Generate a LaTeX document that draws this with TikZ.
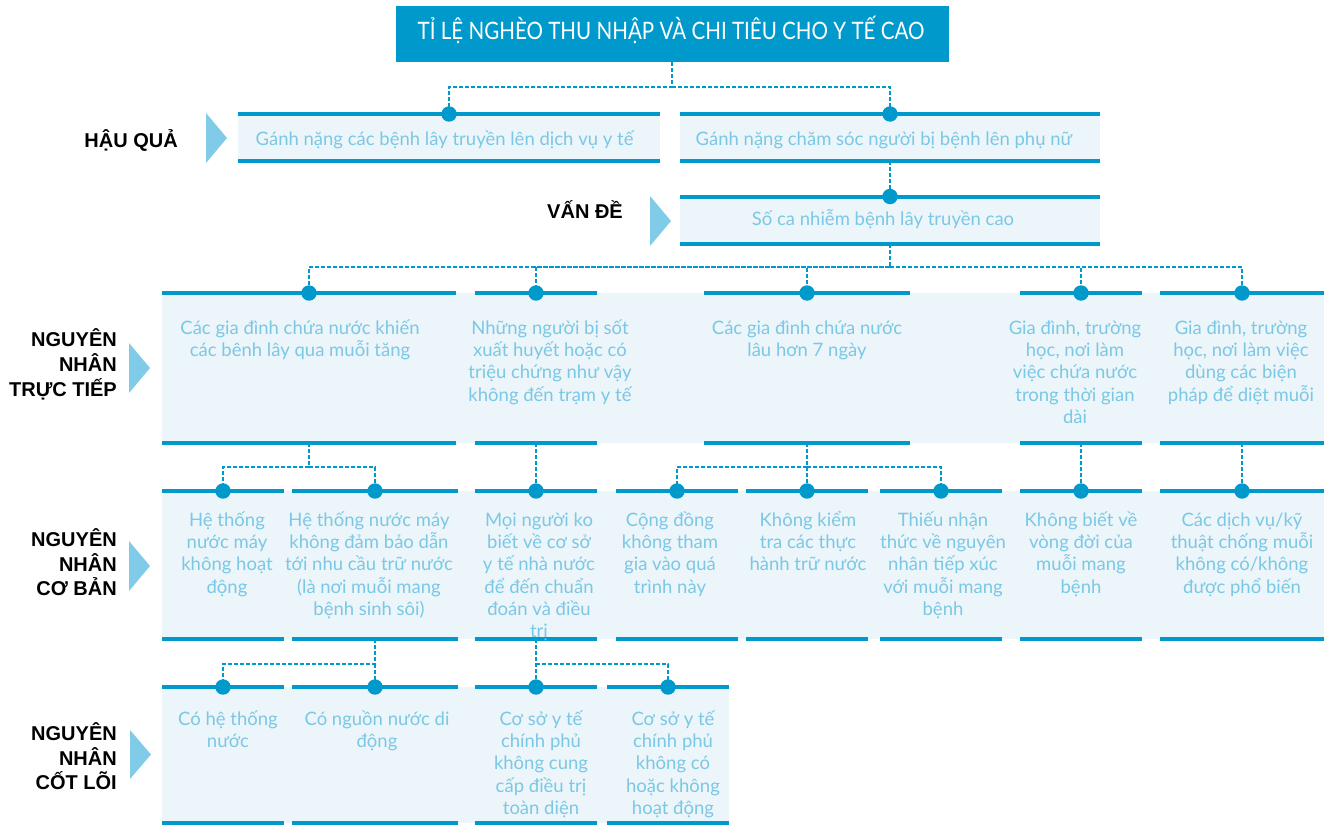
\documentclass[tikz,border=0pt]{standalone}
\usepackage{fontspec}
\setmainfont{Liberation Sans}
\newfontfamily\bodyfont{Lato}
\newfontfamily\titlefont{Lato}[FakeStretch=0.857]
\newfontfamily\labfont{Liberation Sans}
\definecolor{mainblue}{RGB}{0,153,204}
\definecolor{paleblue}{RGB}{236,245,249}
\definecolor{softblue}{RGB}{122,200,230}
\definecolor{arrowblue}{RGB}{128,204,232}
% fixed-height struts so that the first baseline of a block sits a known distance below its top
\newcommand\firstln{\rule{0pt}{19pt}}
\newcommand\labstrut{\rule{0pt}{18pt}}
\begin{document}
% keep baselines evenly spaced even where stacked accents are tall
\setlength{\lineskiplimit}{-100pt}
\begin{tikzpicture}[x=1pt,y=-1pt,
  box/.style={rectangle, inner sep=0pt, outer sep=0pt, minimum width=#1},
  barline/.style={line width=4pt, draw=mainblue},
  link/.style={draw=mainblue, line width=1.8pt, dash pattern=on 4pt off 2pt},
  body/.style={font=\bodyfont\fontsize{18.5}{22.3}\selectfont, text=softblue, align=center, inner sep=0pt},
  lab/.style={font=\labfont\bfseries\fontsize{20}{24.8}\selectfont, text=black, align=right, inner sep=0pt},
  marker/.style={fill=arrowblue},
]
\useasboundingbox (0,0) rectangle (1324,825);

% title box
\node[box=553, minimum height=56, fill=mainblue] (top) at (672,34) {};
\node[font=\titlefont\fontsize{24}{28}\selectfont, text=white, inner sep=0pt, anchor=base] (toptext) at (671,39.3) {TỈ LỆ NGHÈO THU NHẬP VÀ CHI TIÊU CHO Y TẾ CAO};

% pale bands behind the cause rows
\fill[paleblue] (162,293) rectangle (1324,443);
\fill[paleblue] (162,491) rectangle (1324,639);
\fill[paleblue] (162,687) rectangle (729,823);

% consequences and problem
\node[box=422, minimum height=47, fill=paleblue] (c1) at (449,137.5) {};
\node[box=420, minimum height=47, fill=paleblue] (c2) at (890,137.5) {};
\node[box=420, minimum height=47.5, fill=paleblue] (p1) at (890,220.25) {};

% direct causes
\node[box=294, minimum height=150] (r3a) at (309,368) {};
\node[box=122, minimum height=150] (r3b) at (536,368) {};
\node[box=206, minimum height=150] (r3c) at (807,368) {};
\node[box=122, minimum height=150] (r3d) at (1081,368) {};
\node[box=164, minimum height=150] (r3e) at (1242,368) {};

% underlying causes
\node[box=122, minimum height=148] (r4a) at (223,565) {};
\node[box=166, minimum height=148] (r4b) at (375,565) {};
\node[box=122, minimum height=148] (r4c) at (536,565) {};
\node[box=122, minimum height=148] (r4d) at (677,565) {};
\node[box=122, minimum height=148] (r4e) at (807,565) {};
\node[box=122, minimum height=148] (r4f) at (941,565) {};
\node[box=122, minimum height=148] (r4g) at (1081,565) {};
\node[box=164, minimum height=148] (r4h) at (1242,565) {};

% root causes
\node[box=122, minimum height=136] (r5a) at (223,755) {};
\node[box=166, minimum height=136] (r5b) at (375,755) {};
\node[box=122, minimum height=136] (r5c) at (536,755) {};
\node[box=122, minimum height=136] (r5d) at (668,755) {};

% dashed links
\draw[link] (top.south) -- ++(0,25) coordinate (j0) -| (c1.north);
\draw[link] (j0) -| (c2.north);
\draw[link] (c2.south) -- (p1.north);
\draw[link] (p1.south) -- ++(0,23) coordinate (j1) -| (r3a.north);
\foreach \n in {r3b,r3c,r3d,r3e} \draw[link] (j1) -| (\n.north);
\draw[link] (r3a.south) -- ++(0,24) coordinate (j2) -| (r4a.north);
\draw[link] (j2) -| (r4b.north);
\draw[link] (r3b.south) -- (r4c.north);
\draw[link] (r3c.south) -- ++(0,24) coordinate (j3) -| (r4d.north);
\draw[link] (j3) -- (r4e.north);
\draw[link] (j3) -| (r4f.north);
\draw[link] (r3d.south) -- (r4g.north);
\draw[link] (r3e.south) -- (r4h.north);
\draw[link] (r4b.south) -- ++(0,25) coordinate (j4) -| (r5a.north);
\draw[link] (j4) -| (r5b.north);
\draw[link] (r4c.south) -- ++(0,25) coordinate (j5) -| (r5c.north);
\draw[link] (j5) -| (r5d.north);

% top and bottom rules of every box, with the dot on top
\foreach \n in {c1,c2,p1,r3a,r3b,r3c,r3d,r3e,r4a,r4b,r4c,r4d,r4e,r4f,r4g,r4h,r5a,r5b,r5c,r5d}{
  \draw[barline] (\n.north west) -- (\n.north east) (\n.south west) -- (\n.south east);
  \fill[mainblue] (\n.north) circle (7.7);
}

% row markers
\fill[marker] (206,113) -- (227,138) -- (206,163) -- cycle;
\fill[marker] (650,196) -- (671,221) -- (650,246) -- cycle;
\fill[marker] (129,343) -- (150,368) -- (129,393) -- cycle;
\fill[marker] (129,541) -- (150,566) -- (129,591) -- cycle;
\fill[marker] (130,730) -- (151,754.5) -- (130,779) -- cycle;

% row labels
\node[lab, anchor=base east] (l1) at (178,147) {HẬU QUẢ};
\node[lab, anchor=base east] (l2) at (623,218) {VẤN ĐỀ};
\node[lab, anchor=north east] (l3) at (117,328.7) {\labstrut NGUYÊN\\NHÂN\\TRỰC TIẾP};
\node[lab, anchor=north east] (l4) at (117,528) {\labstrut NGUYÊN\\NHÂN\\CƠ BẢN};
\node[lab, anchor=north east] (l5) at (117,722) {\labstrut NGUYÊN\\NHÂN\\CỐT LÕI};

% texts
\node[body, anchor=base] (tc1) at (444.5,145) {Gánh nặng các bệnh lây truyền lên dịch vụ y tế};
\node[body, anchor=base] (tc2) at (884,145) {Gánh nặng chăm sóc người bị bệnh lên phụ nữ};
\node[body, anchor=base] (tp1) at (883,225) {Số ca nhiễm bệnh lây truyền cao};

\node[body, anchor=north] (t3a) at (300,315) {\firstln Các gia đình chứa nước khiến\\các bênh lây qua muỗi tăng};
\node[body, anchor=north] (t3b) at (550,315) {\firstln Những người bị sốt\\xuất huyết hoặc có\\triệu chứng như vậy\\không đến trạm y tế};
\node[body, anchor=north] (t3c) at (807,315) {\firstln Các gia đình chứa nước\\lâu hơn 7 ngày};
\node[body, anchor=north] (t3d) at (1075,315) {\firstln Gia đình, trường\\học, nơi làm\\việc chứa nước\\trong thời gian\\dài};
\node[body, anchor=north] (t3e) at (1241,315) {\firstln Gia đình, trường\\học, nơi làm việc\\dùng các biện\\pháp để diệt muỗi};

\node[body, anchor=north] (t4a) at (227,507) {\firstln Hệ thống\\nước máy\\không hoạt\\động};
\node[body, anchor=north] (t4b) at (369,507) {\firstln Hệ thống nước máy\\không đảm bảo dẫn\\tới nhu cầu trữ nước\\(là nơi muỗi mang\\bệnh sinh sôi)};
\node[body, anchor=north] (t4c) at (539,507) {\firstln Mọi người ko\\biết về cơ sở\\y tế nhà nước\\để đến chuẩn\\đoán và điều\\trị};
\node[body, anchor=north] (t4d) at (670,507) {\firstln Cộng đồng\\không tham\\gia vào quá\\trình này};
\node[body, anchor=north] (t4e) at (808,507) {\firstln Không kiểm\\tra các thực\\hành trữ nước};
\node[body, anchor=north] (t4f) at (943,507) {\firstln Thiếu nhận\\thức về nguyên\\nhân tiếp xúc\\với muỗi mang\\bệnh};
\node[body, anchor=north] (t4g) at (1081,507) {\firstln Không biết về\\vòng đời của\\muỗi mang\\bệnh};
\node[body, anchor=north] (t4h) at (1242,507) {\firstln Các dịch vụ/kỹ\\thuật chống muỗi\\không có/không\\được phổ biến};

\node[body, anchor=north] (t5a) at (228,706) {\firstln Có hệ thống\\nước};
\node[body, anchor=north] (t5b) at (377,706) {\firstln Có nguồn nước di\\động};
\node[body, anchor=north] (t5c) at (541,706) {\firstln Cơ sở y tế\\chính phủ\\không cung\\cấp điều trị\\toàn diện};
\node[body, anchor=north] (t5d) at (673,706) {\firstln Cơ sở y tế\\chính phủ\\không có\\hoặc không\\hoạt động};
\end{tikzpicture}
\end{document}
